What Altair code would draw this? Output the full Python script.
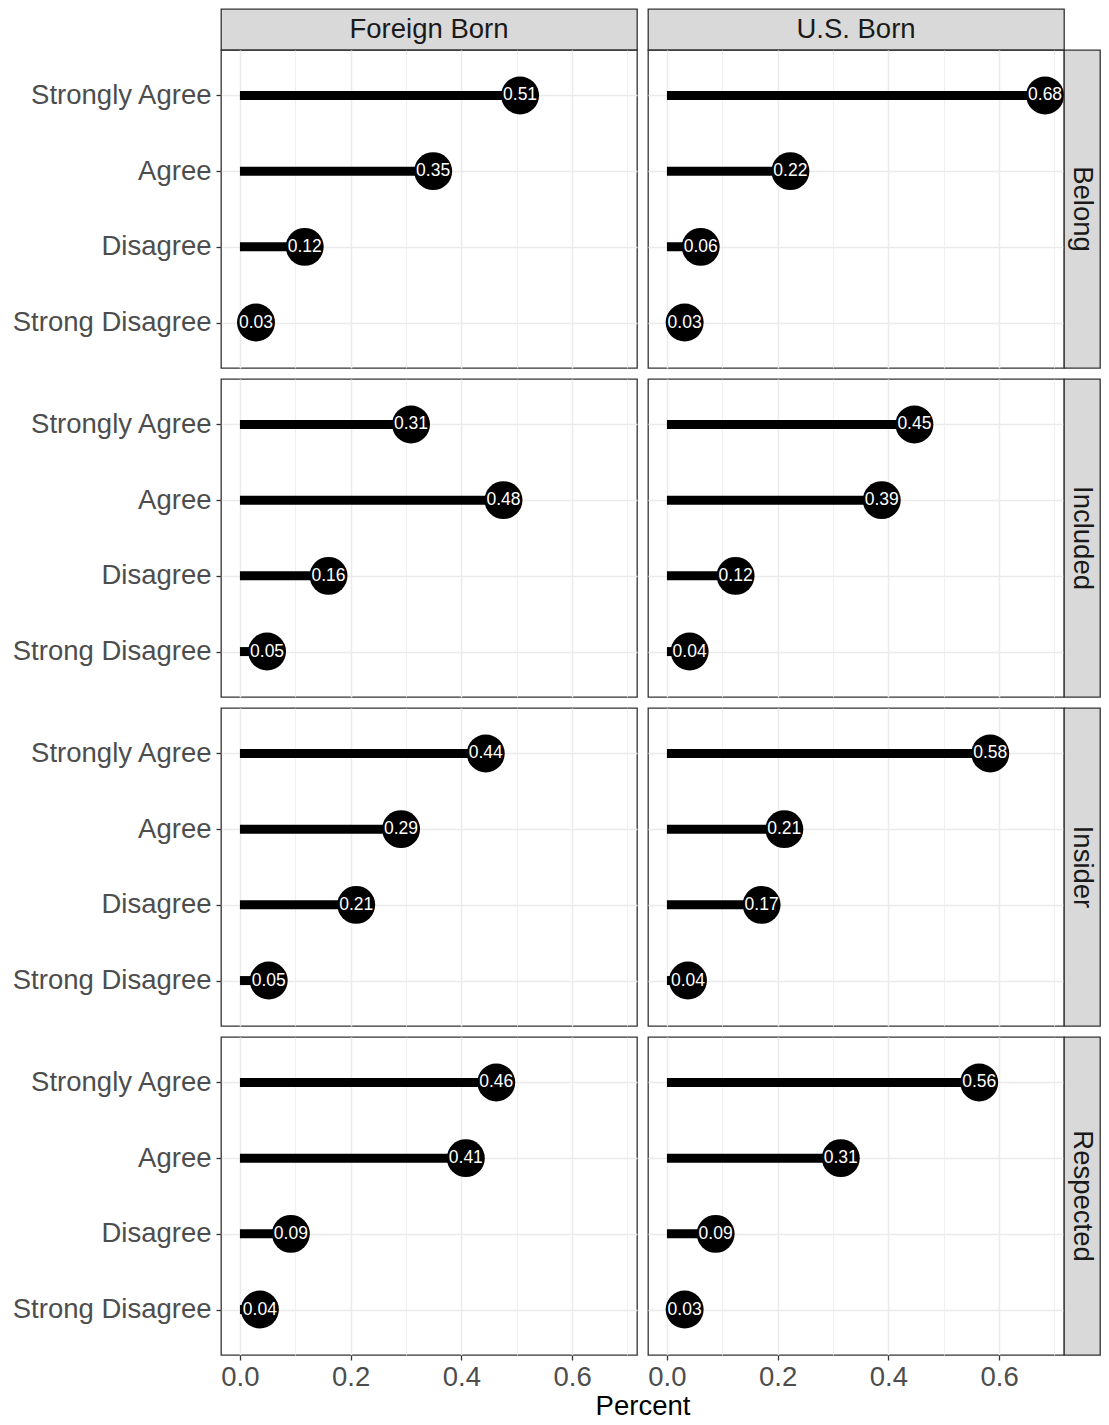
import altair as alt
import pandas as pd

FONT = "Liberation Sans"

groups = ["Foreign Born", "U.S. Born"]
measures = ["Belong", "Included", "Insider", "Respected"]
responses = ["Strongly Agree", "Agree", "Disagree", "Strong Disagree"]

# values (order follows `responses`)
belong_fb = [0.506, 0.349, 0.117, 0.029]
belong_us = [0.683, 0.223, 0.061, 0.032]
included_fb = [0.309, 0.476, 0.160, 0.049]
included_us = [0.447, 0.388, 0.124, 0.041]
insider_fb = [0.444, 0.291, 0.210, 0.052]
insider_us = [0.584, 0.212, 0.171, 0.038]
respected_fb = [0.463, 0.408, 0.092, 0.036]
respected_us = [0.564, 0.314, 0.088, 0.032]

x_ticks = [0.0, 0.1, 0.2, 0.3, 0.4, 0.5, 0.6, 0.7]
x_domain = [-0.0342, 0.7172]

series = {
    ("Belong", "Foreign Born"): belong_fb,
    ("Belong", "U.S. Born"): belong_us,
    ("Included", "Foreign Born"): included_fb,
    ("Included", "U.S. Born"): included_us,
    ("Insider", "Foreign Born"): insider_fb,
    ("Insider", "U.S. Born"): insider_us,
    ("Respected", "Foreign Born"): respected_fb,
    ("Respected", "U.S. Born"): respected_us,
}

rows = []
for (m, g), vals in series.items():
    for r, v in zip(responses, vals):
        rows.append({"measure": m, "group": g, "response": r, "value": v})
df = pd.DataFrame(rows)

PW, PH = 416, 318
GAP = 11
STRIP_TOP = 41
STRIP_RIGHT = 36
FS = 27.5

MINOR = "round(datum.value * 10) % 2 == 1"


def x_axis(bottom, with_title):
    common = dict(
        values=x_ticks,
        grid=True,
        gridColor="#EBEBEB",
        gridWidth={"condition": {"test": MINOR, "value": 0.75}, "value": 1.5},
        domain=False,
    )
    if bottom:
        extra = dict(
            format=".1f",
            labelExpr=f"{MINOR} ? '' : datum.label",
            tickOpacity={"condition": {"test": MINOR, "value": 0}, "value": 1},
            labelFlush=False,
        )
        if with_title:
            extra.update(
                title="Percent",
                titleX=PW + GAP / 2,
                titleFontSize=FS,
                titleFont=FONT,
                titleFontWeight="normal",
                titleColor="#000000",
                titlePadding=2,
            )
        else:
            extra.update(title=None)
        return alt.Axis(**common, **extra)
    return alt.Axis(**common, labels=False, ticks=False, title=None)


def y_axis(left):
    if left:
        return alt.Axis(title=None, grid=True, gridColor="#EBEBEB", gridWidth=1.5,
                        domain=False, labelPadding=5, labelLimit=400)
    return alt.Axis(title=None, grid=True, gridColor="#EBEBEB", gridWidth=1.5,
                    domain=False, labels=False, ticks=False)


def panel(measure, group, left, bottom):
    d = df[(df["measure"] == measure) & (df["group"] == group)]
    xs = alt.Scale(domain=x_domain, nice=False, zero=False)
    ys = alt.Scale(type="point", domain=responses, padding=0.6)
    y = alt.Y("response:N", scale=ys, sort=responses, axis=y_axis(left))
    base = alt.Chart(d).transform_calculate(zero="0")
    rule = base.mark_rule(color="black", strokeWidth=9, strokeCap="butt").encode(
        x=alt.X("zero:Q", scale=xs, axis=x_axis(bottom, left and bottom)),
        x2="value:Q",
        y=y,
    )
    dots = base.mark_circle(color="black", opacity=1, size=1440).encode(
        x=alt.X("value:Q", scale=xs),
        y=y,
    )
    labels = base.mark_text(color="white", fontSize=17.5, font=FONT).encode(
        x=alt.X("value:Q", scale=xs),
        y=y,
        text=alt.Text("value:Q", format=".2f"),
    )
    return alt.layer(rule, dots, labels).properties(width=PW, height=PH)


def strip(label, w, h, angle=0):
    return (
        alt.Chart(pd.DataFrame({"label": [label]}))
        .mark_text(fontSize=FS, color="#1A1A1A", font=FONT, angle=angle)
        .encode(text="label:N")
        .properties(
            width=w,
            height=h,
            view=alt.ViewBackground(fill="#D9D9D9", stroke="#333333", strokeWidth=1.3),
        )
    )


def blank(w, h):
    return (
        alt.Chart(pd.DataFrame({"a": [0]}))
        .mark_point(opacity=0)
        .properties(width=w, height=h, view=alt.ViewBackground(stroke="transparent"))
    )


cells = [
    strip(groups[0], PW, STRIP_TOP),
    blank(GAP, STRIP_TOP),
    strip(groups[1], PW, STRIP_TOP),
    blank(STRIP_RIGHT, STRIP_TOP),
]
for i, m in enumerate(measures):
    last = i == len(measures) - 1
    cells += [
        panel(m, groups[0], True, last),
        blank(GAP, PH),
        panel(m, groups[1], False, last),
        strip(m, STRIP_RIGHT, PH, angle=90),
    ]
    if not last:
        cells += [blank(1, GAP), blank(GAP, GAP), blank(1, GAP), blank(1, GAP)]

chart = (
    alt.concat(*cells, columns=4, spacing=0)
    .properties(
        align="each",
        bounds="flush",
        padding={"left": 3, "top": 0, "right": 0, "bottom": 0},
    )
    .configure_view(stroke="#333333", strokeWidth=1.3)
    .configure_axis(
        labelFont=FONT,
        labelFontSize=FS,
        labelColor="#4D4D4D",
        tickColor="#333333",
        tickWidth=1.3,
        tickSize=5,
        labelPadding=3,
    )
)

chart.save("out.html", embed_options={"renderer": "svg", "actions": False})
